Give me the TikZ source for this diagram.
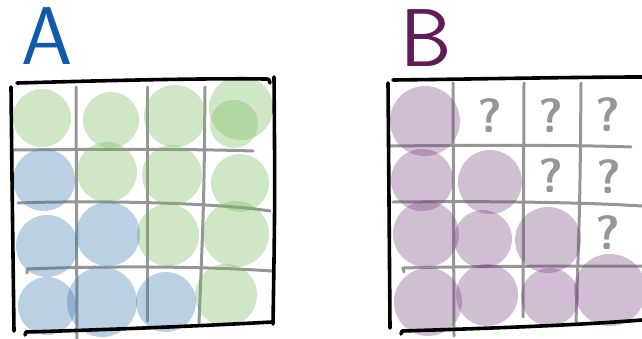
\documentclass[tikz,border=0pt]{standalone}
\definecolor{inkA}{HTML}{0F5AAA}
\definecolor{inkB}{HTML}{621C55}
\definecolor{gridgray}{HTML}{969696}
\definecolor{leafgreen}{HTML}{78B95F}
\definecolor{skyblue}{HTML}{3C78AF}
\definecolor{plum}{HTML}{78467D}

\begin{document}
\begin{tikzpicture}[x=1pt,y=-1pt,
 letter/.style={font=\fontsize{82}{82}\selectfont\sffamily,inner sep=0pt},
 qmark/.style={gridgray,font=\fontsize{48}{48}\selectfont\sffamily\bfseries,
   inner sep=0pt},
 edgeline/.style={black,line width=3.6pt,line cap=round,line join=round},
 gridline/.style={gridgray,line width=3pt,line cap=round,line join=round},
 % Translucent blobs, so overlaps and grid lines show through darker.
 greenblob/.style={fill=leafgreen,fill opacity=0.35},
 blueblob/.style={fill=skyblue,fill opacity=0.35},
 plumblob/.style={fill=plum,fill opacity=0.35}]
\useasboundingbox (0,0) rectangle (642,338);
\clip (0,0) rectangle (642,338);

% Panel labels.
\node[letter,inkA] (labA) at (47,36) {A};
\node[letter,inkB] (labB) at (426,38) {B};

% Grid of panel A.
\draw[gridline] (76,87)--(77,338);
\draw[gridline] (147,87)--(147,321);
\draw[gridline] (205,87) .. controls (204,200) .. (199,323);
\draw[gridline] (13,150) .. controls (100,149) and (200,149) .. (253,151);
\draw[gridline] (18,203) .. controls (100,200) and (220,203) .. (270,211);
\draw[gridline] (27,273)--(27,269) .. controls (100,266) and (200,266) .. (272,271);

% Grid of panel B.
\draw[gridline] (453,83)--(454,336);
\draw[gridline] (524,83)--(523,317);
\draw[gridline] (581,83) .. controls (580,200) .. (576,322);
\draw[gridline] (389,146) .. controls (480,145) and (580,145) .. (631,147);
\draw[gridline] (393,202) .. controls (480,201) and (580,202) .. (642,206);
\draw[gridline] (404,272)--(403,268) .. controls (480,266) and (580,266) .. (642,266);

% Filled cells of A.
\foreach \cx/\cy/\r in {42/118/29,111/120/28,175/116/31,241/108/32,234/124/24,
  107/172/30,172/175/30,240/183/29,168/235/31,236/234/33,226/295/31}
  \fill[greenblob] (\cx,\cy) circle (\r pt);
\foreach \cx/\cy/\r in {44/180/31,47/246/31,108/234/32,47/306/29,102/302/35,
  166/302/30}
  \fill[blueblob] (\cx,\cy) circle (\r pt);

% Filled cells of B; the rest are still unknown.
\foreach \cx/\cy/\r in {425/121/35,422/180/31,490/182/32,426/234/33,483/239/29,
  548/240/33,428/302/34,487/295/31,550/297/29,610/290/36}
  \fill[plumblob] (\cx,\cy) circle (\r pt);
\node[qmark] (q1) at (490,116) {?};
\node[qmark] (q2) at (551,116) {?};
\node[qmark] (q3) at (608,115) {?};
\node[qmark] (q4) at (551,176) {?};
\node[qmark] (q5) at (609,177) {?};
\node[qmark] (q6) at (608,233) {?};

% Hand drawn frames.
\draw[edgeline] (17,83) .. controls (90,81) and (200,78) .. (265,79)
  .. controls (269,79) .. (270,83);
\draw[edgeline] (11,87) .. controls (12,180) .. (14,331);
\draw[edgeline] (274,77) .. controls (275,200) .. (273,324);
\draw[edgeline] (25,335)--(26,332) .. controls (100,330) and (200,326) .. (272,322);
\draw[edgeline] (393,80) .. controls (480,79) and (580,77) .. (642,77);
\draw[edgeline] (388,83) .. controls (389,200) .. (390,328);
\draw[edgeline] (401,334)--(402,331) .. controls (500,328) and (580,325) .. (642,320);
\end{tikzpicture}
\end{document}
